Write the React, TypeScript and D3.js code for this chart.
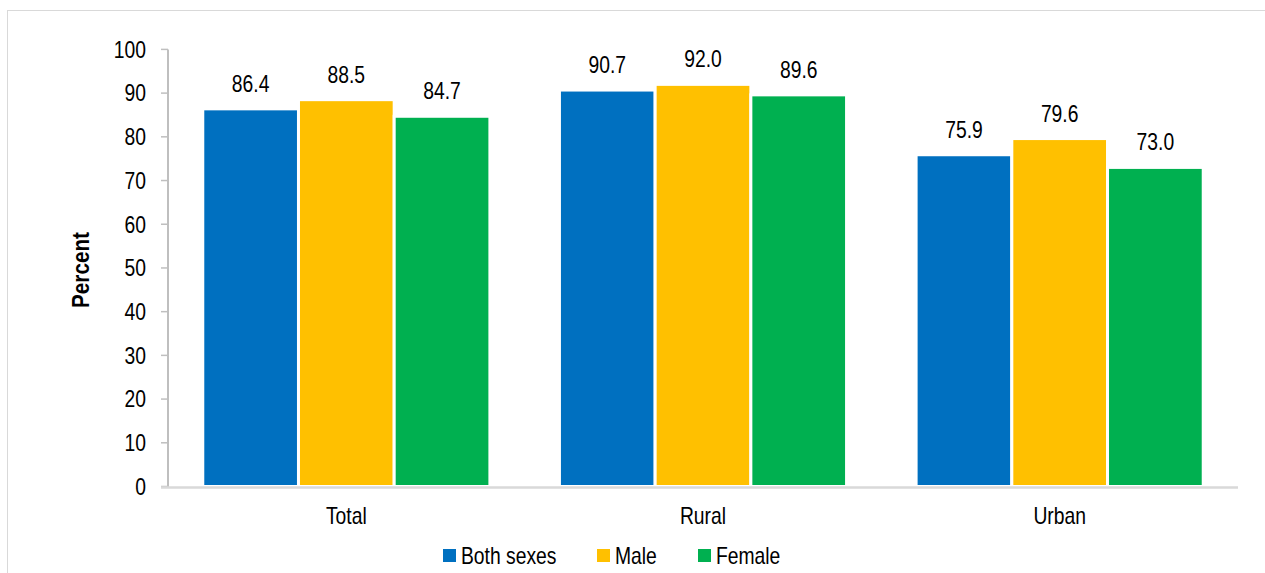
import React from "react";
import * as d3 from "d3";

const categories = ["Total", "Rural", "Urban"];
const seriesNames = ["Both sexes", "Male", "Female"];
const bothSexes = [86.4, 90.7, 75.9];
const male = [88.5, 92.0, 79.6];
const female = [84.7, 89.6, 73.0];
const yTicks = [0, 10, 20, 30, 40, 50, 60, 70, 80, 90, 100];
const colors = ["#0070C0", "#FFC000", "#00B050"];

const FONT = "'Liberation Sans', Arial, sans-serif";
const SX = 0.84;

function NText({ x, y, anchor = "start", size = 23, weight = "normal", dy, children }: any) {
  return (
    <text
      transform={`translate(${x},${y}) scale(${SX},1)`}
      textAnchor={anchor}
      fontSize={size}
      fontWeight={weight}
      dy={dy}
      fill="#000"
    >
      {children}
    </text>
  );
}

export default function App() {
  const W = 1265, H = 573;
  const left = 168, right = 1238, top = 49.4, bottom = 486.5;
  const series = [bothSexes, male, female];

  const x0 = d3.scaleBand().domain(categories).range([left, right]).paddingInner(0.195).paddingOuter(0.0975);
  const x1 = d3.scaleBand().domain(seriesNames).range([0, x0.bandwidth()]).padding(0);
  const y = d3.scaleLinear().domain([0, 100]).range([bottom, top]);

  const legendItems = [
    { name: "Both sexes", sx: 443, tx: 461 },
    { name: "Male", sx: 597, tx: 615 },
    { name: "Female", sx: 698, tx: 716 },
  ];

  return (
    <svg width={W} height={H} style={{ position: "absolute", left: 0, top: 0, background: "#fff" }} fontFamily={FONT}>
      <rect x={7.5} y={10.5} width={1300} height={600} fill="#fff" stroke="#d9d9d9" strokeWidth={1} />
      {yTicks.map((t) => (
        <g key={t}>
          <line x1={left - 7} x2={left} y1={y(t)} y2={y(t)} stroke="#bfbfbf" strokeWidth={1.5} />
          <NText x={left - 22} y={y(t)} dy="0.36em" anchor="end">
            {t}
          </NText>
        </g>
      ))}
      {categories.map((c, ci) => (
        <g key={c}>
          {series.map((s, si) => {
            const bx = (x0(c) as number) + (x1(seriesNames[si]) as number);
            const bw = x1.bandwidth();
            return (
              <g key={si}>
                <rect x={bx} y={y(s[ci])} width={bw} height={bottom - y(s[ci])} fill={colors[si]} stroke="#fff" strokeWidth={3} />
                <NText x={bx + bw / 2} y={y(s[ci]) - 17} anchor="middle">
                  {s[ci].toFixed(1)}
                </NText>
              </g>
            );
          })}
          <NText x={(x0(c) as number) + x0.bandwidth() / 2} y={524} anchor="middle">
            {c}
          </NText>
        </g>
      ))}
      <line x1={left} x2={left} y1={top} y2={bottom + 1} stroke="#bfbfbf" strokeWidth={2} />
      <line x1={left - 7} x2={right} y1={bottom + 1} y2={bottom + 1} stroke="#d9d9d9" strokeWidth={2.5} />
      <text transform={`translate(89,270) rotate(-90) scale(0.9,1)`} textAnchor="middle" fontSize={23} fontWeight="bold" fill="#000">
        Percent
      </text>
      {legendItems.map((l, i) => (
        <g key={l.name}>
          <rect x={l.sx} y={549} width={13} height={13} fill={colors[i]} />
          <NText x={l.tx} y={564}>
            {l.name}
          </NText>
        </g>
      ))}
    </svg>
  );
}
